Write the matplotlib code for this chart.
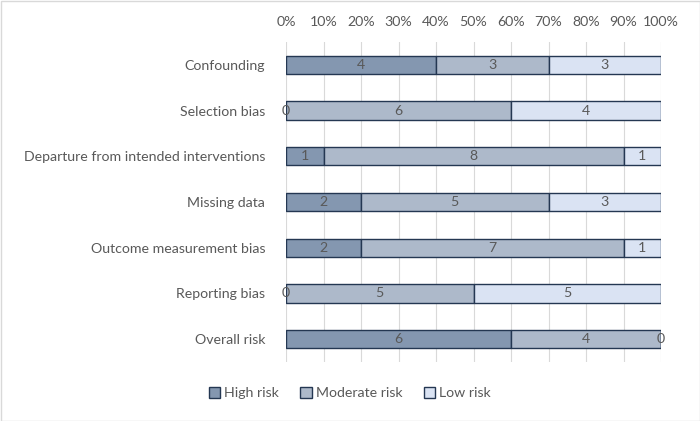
import matplotlib
matplotlib.use("Agg")
import matplotlib.pyplot as plt
import numpy as np
from matplotlib.patches import Rectangle

categories = ["Confounding", "Selection bias", "Departure from intended interventions",
              "Missing data", "Outcome measurement bias", "Reporting bias", "Overall risk"]
high = [4, 0, 1, 2, 2, 0, 6]
moderate = [3, 6, 8, 5, 7, 5, 4]
low = [3, 4, 1, 3, 1, 5, 0]
series_names = ["High risk", "Moderate risk", "Low risk"]
colors = ["#8497B0", "#ADB9CA", "#DAE3F3"]
edge = "#243752"
text_color = "#595959"

plt.rcParams['font.family'] = ['Lato', 'DejaVu Sans']
fs = 10.2

fig = plt.figure(figsize=(7, 4.21), dpi=100)
ax = fig.add_axes([286/700, 1-362/421, (661-286)/700, 320/421])

data = np.array([high, moderate, low], dtype=float)
totals = data.sum(axis=0)
pct = data / totals * 100
y = np.arange(len(categories))
left = np.zeros(len(categories))
for i, name in enumerate(series_names):
    bars = ax.barh(y, pct[i], left=left, height=0.4, color=colors[i],
                   edgecolor=edge, linewidth=1.0, label=name, zorder=3)
    texts = ax.bar_label(bars, labels=[str(int(v)) for v in data[i]], label_type='center',
                         color=text_color, fontsize=fs)
    for t in texts:
        t.set_zorder(10)
        t.set_clip_on(False)
    left += pct[i]

ax.set_ylim(len(categories) - 0.5, -0.5)
ax.set_xlim(0, 100)
ax.set_yticks(y)
ax.set_yticklabels(categories, color=text_color, fontsize=fs)
ax.set_xticks(np.arange(0, 101, 10))
ax.set_xticklabels([f"{v}%" for v in range(0, 101, 10)], color=text_color, fontsize=fs)
ax.xaxis.tick_top()
ax.tick_params(axis='x', length=0, pad=10)
ax.tick_params(axis='y', length=0, pad=15)
ax.grid(axis='x', color='#D9D9D9', linewidth=0.8, zorder=0)
ax.set_axisbelow(True)
for s in ax.spines.values():
    s.set_visible(False)

leg = fig.legend(loc='center', bbox_to_anchor=(0.5, 1-393/421), ncol=3, frameon=False,
                 fontsize=fs, handlelength=0.8, handleheight=0.8, handletextpad=0.3,
                 columnspacing=1.5)
for t in leg.get_texts():
    t.set_color(text_color)

fig.patches.append(Rectangle((0.5/700, 0.5/421), 1-1/700, 1-1/421, transform=fig.transFigure,
                             fill=False, edgecolor='#D9D9D9', linewidth=1))

fig.savefig("out.png", dpi=100)
